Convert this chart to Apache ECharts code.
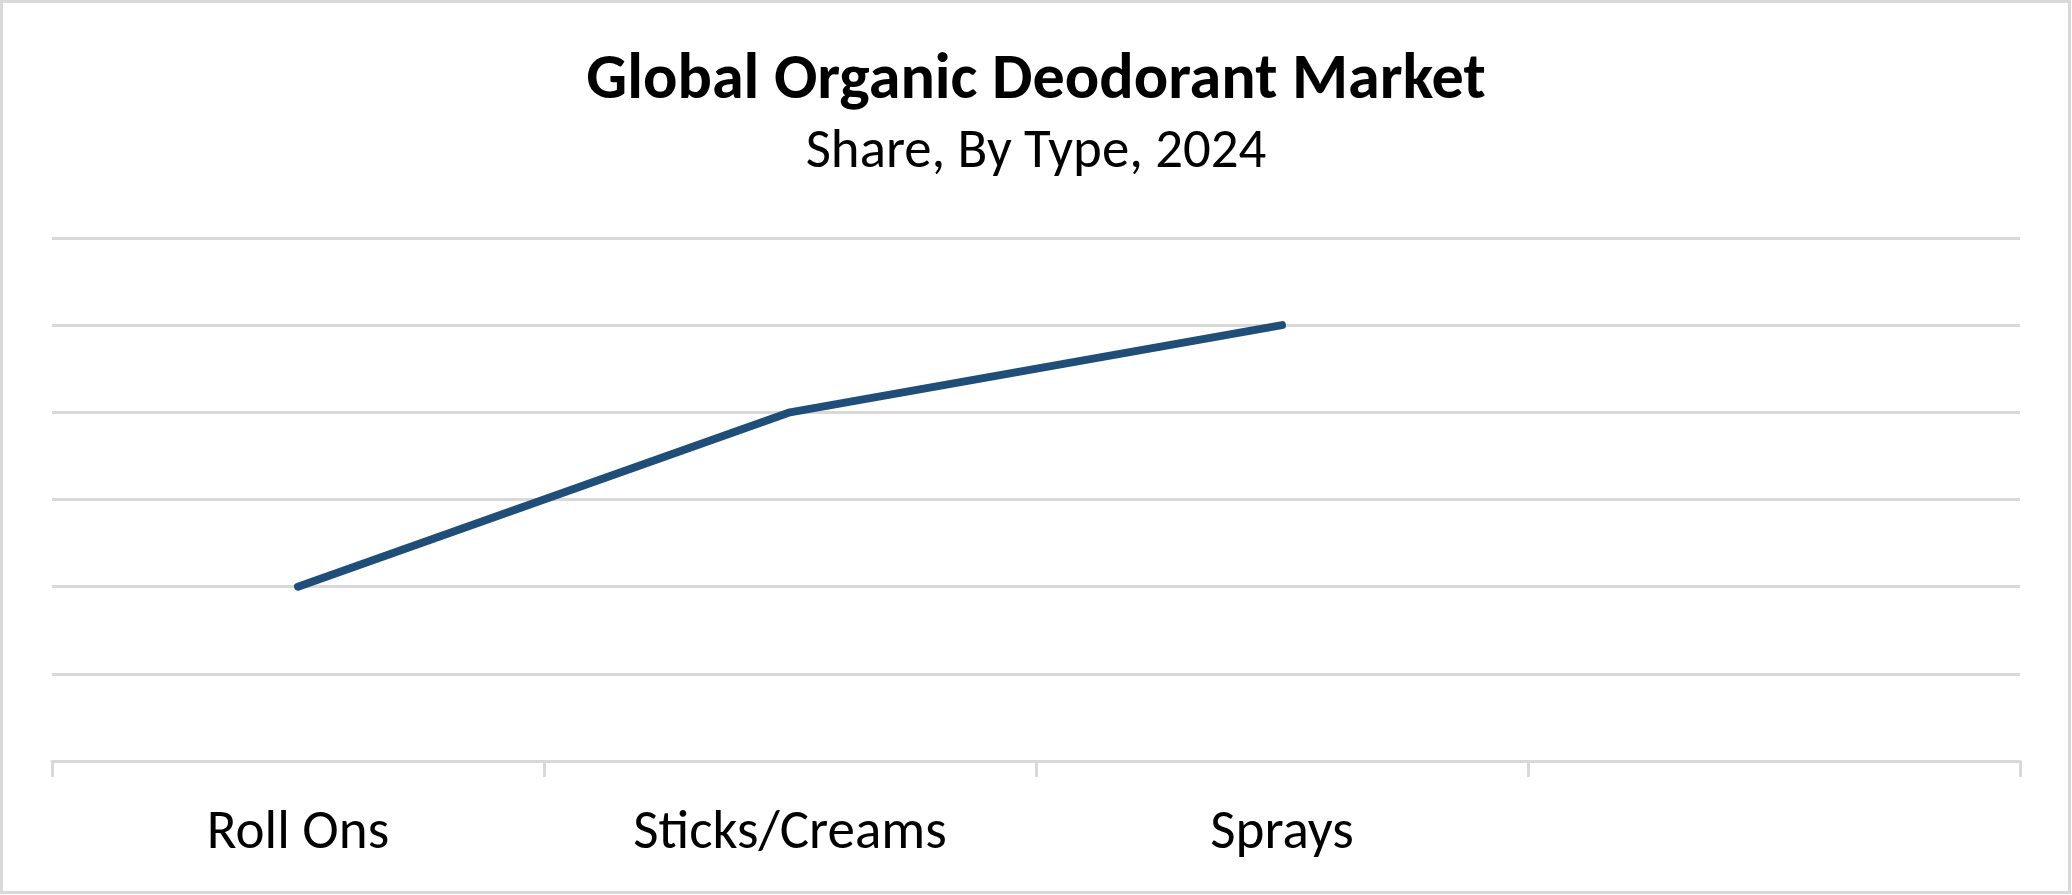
<!DOCTYPE html>
<html>
<head>
<meta charset="utf-8">
<script src="https://cdn.jsdelivr.net/npm/echarts@6/dist/echarts.min.js"></script>
<style>
html,body{margin:0;padding:0;background:#fff;}
#chart{width:2072px;height:895px;}
</style>
</head>
<body>
<div id="chart"></div>
<script>
// ---- data ----
const titleText = 'Global Organic Deodorant Market';
const subtitleText = 'Share, By Type, 2024';
const categories = ['Roll Ons', 'Sticks/Creams', 'Sprays', ''];
const shareValues = [2, 4, 5, null];
const yMin = 0, yMax = 6, yStep = 1;

// ---- layout helpers ----
const FAMILY = 'Carlito, Calibri, Lato, sans-serif';
function fitSize(text, weight, target) {
  const c = document.createElement('canvas').getContext('2d');
  c.font = weight + ' 100px ' + FAMILY;
  const w = c.measureText(text).width;
  return Math.round(100 * target / w * 10) / 10;
}
const titleSize = fitSize(titleText, 'bold', 899);
const subSize = fitSize(subtitleText, 'normal', 461);
const labSize = (fitSize('Roll Ons', 'normal', 181) + fitSize('Sticks/Creams', 'normal', 313) + fitSize('Sprays', 'normal', 145)) / 3;

const chart = echarts.init(document.getElementById('chart'), null, {renderer: 'canvas'});
chart.setOption({
  backgroundColor: '#ffffff',
  animation: false,
  title: [
    {text: titleText, left: 'center', top: 77 - titleSize / 2,
     textStyle: {fontFamily: FAMILY, fontWeight: 'bold', fontSize: titleSize, color: '#000', lineHeight: titleSize}},
    {text: subtitleText, left: 'center', top: 148 - subSize / 2,
     textStyle: {fontFamily: FAMILY, fontWeight: 'normal', fontSize: subSize, color: '#000', lineHeight: subSize}}
  ],
  graphic: [{
    type: 'rect', shape: {x: 1.5, y: 1.5, width: 2068, height: 891},
    style: {fill: 'none', stroke: '#D9D9D9', lineWidth: 3}, silent: true, z: 100
  }],
  grid: {left: 52, right: 52, top: 238, bottom: 134, containLabel: false},
  xAxis: {
    type: 'category', data: categories, boundaryGap: true,
    axisLine: {show: true, lineStyle: {color: '#D9D9D9', width: 3}},
    axisTick: {show: true, length: 16, lineStyle: {color: '#D9D9D9', width: 3}},
    axisLabel: {fontFamily: FAMILY, fontSize: labSize, color: '#000', margin: 46},
    splitLine: {show: false}
  },
  yAxis: {
    type: 'value', min: yMin, max: yMax, interval: yStep,
    axisLabel: {show: false}, axisLine: {show: false}, axisTick: {show: false},
    splitLine: {show: true, lineStyle: {color: '#D9D9D9', width: 3}}
  },
  series: [{
    type: 'line', data: shareValues, symbol: 'none',
    lineStyle: {color: '#1F4E79', width: 8, cap: 'round', join: 'round'},
    connectNulls: false
  }]
});
</script>
</body>
</html>
